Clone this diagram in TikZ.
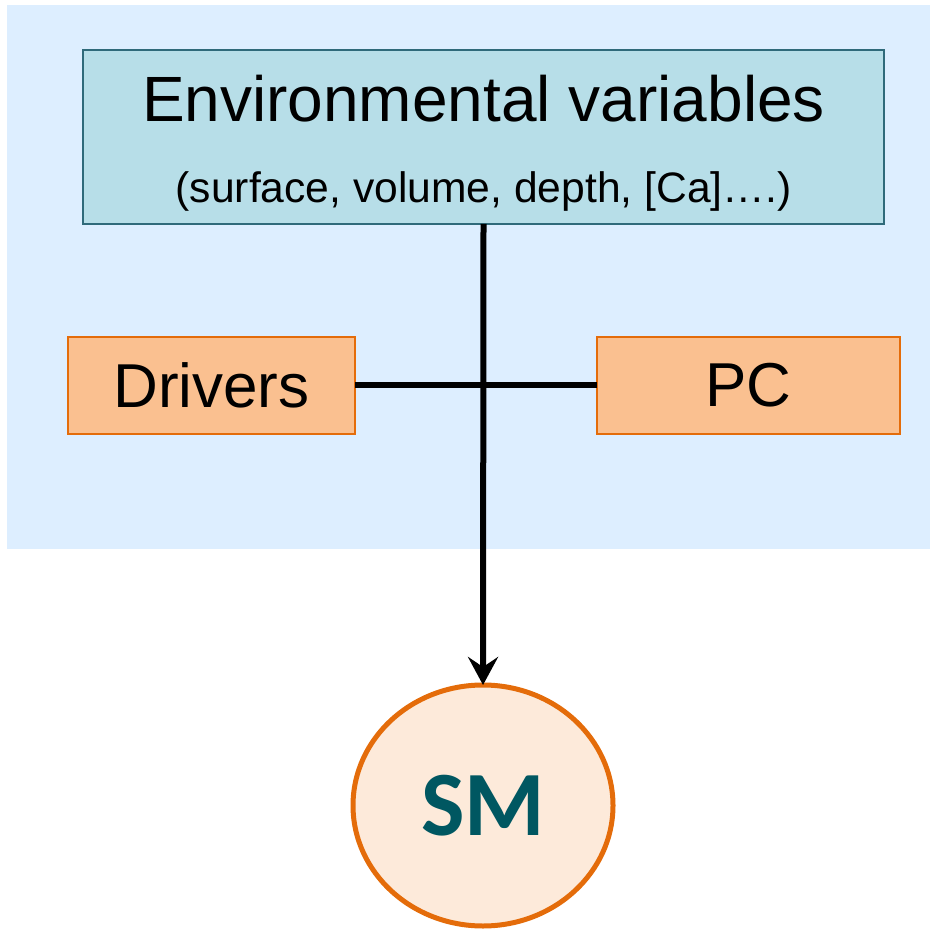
\documentclass[tikz,border=0pt]{standalone}
\usepackage{fontspec}
\setmainfont{Liberation Sans}
\newfontfamily\smfont{Carlito}
\usetikzlibrary{arrows.meta}
\definecolor{bgblue}{HTML}{DDEEFF}
\definecolor{envfill}{HTML}{B7DEE8}
\definecolor{envline}{HTML}{2F6A7A}
\definecolor{drvfill}{HTML}{FAC090}
\definecolor{drvline}{HTML}{E46C0A}
\definecolor{smfill}{HTML}{FDEADA}
\definecolor{smtext}{HTML}{005761}
\tikzset{
  envbox/.style={draw=envline, fill=envfill, line width=1pt, outer sep=0pt,
    minimum width=400.5pt, minimum height=87pt, align=center, inner sep=0pt,
    font=\fontsize{32}{40.5}\selectfont},
  drvbox/.style={draw=drvline, fill=drvfill, line width=1pt, outer sep=0pt,
    minimum height=48.5pt, inner sep=0pt, font=\fontsize{31}{36}\selectfont},
  smnode/.style={ellipse, draw=drvline, fill=smfill, line width=2.5pt, outer sep=0pt,
    minimum width=130pt, minimum height=120.5pt, inner sep=0pt, text=smtext,
    font=\smfont\bfseries\fontsize{46}{50}\selectfont},
  link/.style={line width=3pt}
}
\usetikzlibrary{shapes.geometric}
\begin{document}
\begin{tikzpicture}[x=0.5pt,y=-0.5pt]
\useasboundingbox (0,0) rectangle (930,929);
\fill[bgblue] (7,5) rectangle (930,549);
\node[envbox] (env) at (483.5,137) {\rule{0pt}{29.6pt}Environmental variables\\
  {\fontsize{21.3}{40.5}\selectfont (surface, volume, depth, [Ca]….)}};
\node[drvbox, minimum width=143.5pt] (drv) at (211.5,385.5) {Drivers};
\node[drvbox, minimum width=151.5pt] (pc) at (748.5,385.5) {PC};
\node[smnode] (sm) at (483,805.5) {SM};
\draw[link] (drv.east) -- (pc.west);
\draw[link, -{Stealth[length=14pt, width=15pt, inset=5pt]}] (env.south) -- (sm.north);
\end{tikzpicture}
\end{document}
